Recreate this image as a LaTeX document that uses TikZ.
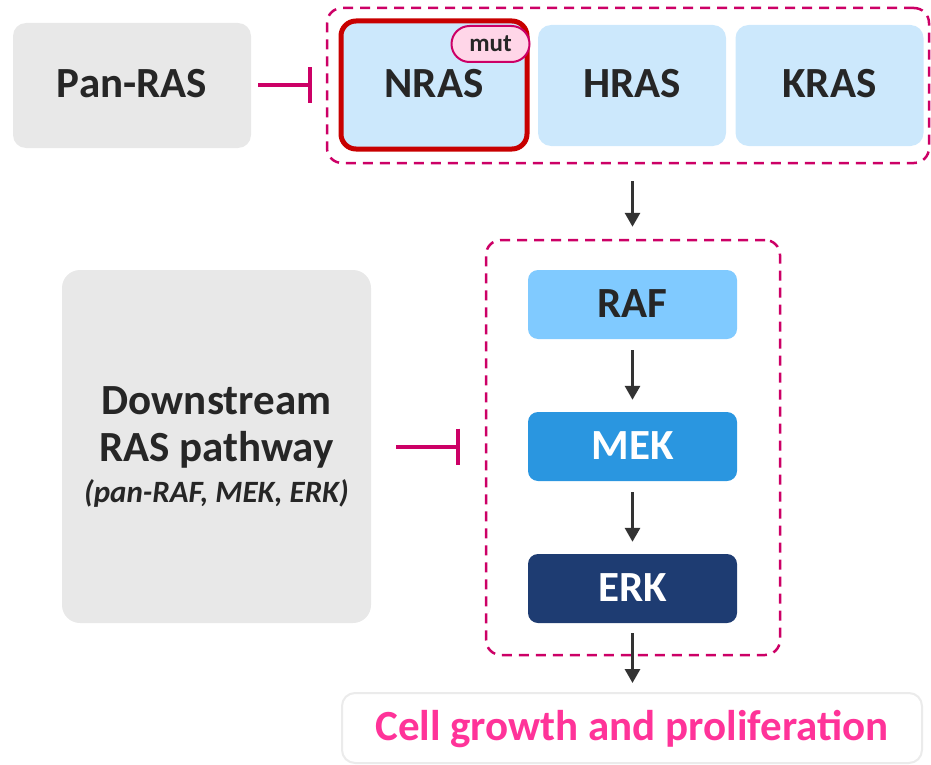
\documentclass[tikz,border=0pt]{standalone}
\usepackage{fontspec}
\setmainfont{Carlito}
\usetikzlibrary{positioning,arrows.meta}
\definecolor{InhibRed}{RGB}{204,0,102}
\definecolor{MutRed}{RGB}{200,0,0}
\definecolor{MutPink}{RGB}{255,214,232}
\definecolor{PanGray}{RGB}{232,232,232}
\definecolor{RasBlue}{RGB}{204,232,252}
\definecolor{RafBlue}{RGB}{128,202,255}
\definecolor{MekBlue}{RGB}{42,150,224}
\definecolor{ErkBlue}{RGB}{30,60,114}
\definecolor{TextDark}{RGB}{38,38,38}
\definecolor{ArrowGray}{RGB}{51,51,51}
\definecolor{GrowthPink}{RGB}{255,51,153}
\tikzset{
  box/.style={rounded corners=13pt,inner sep=0pt,text=TextDark,
    font=\bfseries\fontsize{43}{47}\selectfont},
  caps/.style={text height=25pt,text depth=0pt},
  grey/.style={box,fill=PanGray},
  ras/.style={box,caps,fill=RasBlue,minimum width=188pt,minimum height=121pt},
  kinase/.style={box,caps,rounded corners=10pt,minimum width=209pt,minimum height=69pt},
  group/.style={draw=InhibRed,line width=2.5pt,dash pattern=on 10pt off 7pt,
    rounded corners=15pt,inner sep=0pt},
  inhib/.style={draw=InhibRed,line width=4pt,-{Bar[width=36pt,line width=4pt]}},
  flow/.style={draw=ArrowGray,line width=3pt,-{Triangle[length=14pt,width=15pt]}},
}
\begin{document}
\begin{tikzpicture}[x=1pt,y=-1pt]
\useasboundingbox (0,0) rectangle (931,765);
% RAS isoforms
\node[group,minimum width=602pt,minimum height=155pt] (rasgroup) at (628,85.5) {};
\node[ras,rounded corners=15pt,draw=MutRed,line width=5pt,minimum width=186pt,minimum height=128pt] (nras) at (434,85) {NRAS};
\node[ras] (hras) at (632,85.5) {HRAS};
\node[ras] (kras) at (829.5,85.5) {KRAS};
\node[fill=MutPink,draw=InhibRed,line width=2pt,rounded corners=18pt,minimum width=78pt,minimum height=36pt,inner sep=0pt,
  text=TextDark,font=\bfseries\fontsize{25}{27}\selectfont] (mut) at (490.5,44) {mut};
\node[grey,caps,minimum width=238pt,minimum height=125pt] (panras) at (132,85.5) {Pan-RAS};
\draw[inhib,shorten <=7pt,shorten >=14pt] (panras.east) -- (panras.east -| rasgroup.west);
% MAPK cascade
\node[group,minimum width=294pt,minimum height=415pt] (mapk) at (633,447.5) {};
\node[kinase,fill=RafBlue] (raf) at (632.5,304.5) {RAF};
\node[kinase,fill=MekBlue,text=white] (mek) at (632.5,446.5) {MEK};
\node[kinase,fill=ErkBlue,text=white] (erk) at (632.5,588.5) {ERK};
\node[grey,rounded corners=18pt,minimum width=309pt,minimum height=353pt,align=center] (downstream) at (216.5,446.5)
  {Downstream\\RAS pathway\\[-6pt]{\fontsize{31}{33}\selectfont\itshape (pan-RAF, MEK, ERK)}};
\draw[inhib,shorten <=25pt,shorten >=25pt] (downstream.east |- mek) -- (mapk.west |- mek);
% outcome
\node[box,caps,fill=white,draw=black!8,line width=2pt,minimum width=580pt,minimum height=70pt,text=GrowthPink] (growth) at (632,728) {Cell growth and proliferation};
\draw[flow,shorten <=17pt,shorten >=12pt] (rasgroup.south -| raf) -- (mapk.north -| raf);
\draw[flow,shorten <=11pt,shorten >=12pt] (raf) -- (mek);
\draw[flow,shorten <=11pt,shorten >=12pt] (mek) -- (erk);
\draw[flow,shorten <=10pt,shorten >=9pt] (erk.south) -- (growth.north -| erk);
\end{tikzpicture}
\end{document}
